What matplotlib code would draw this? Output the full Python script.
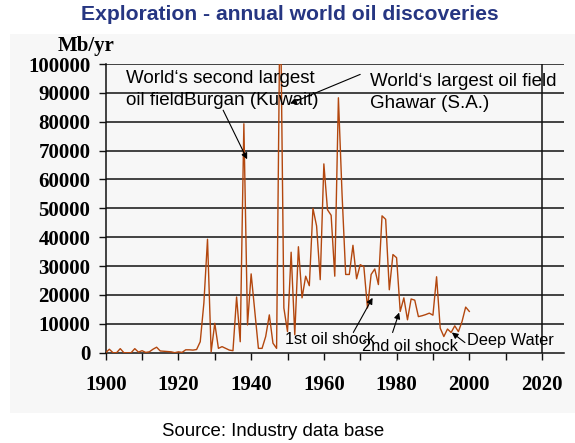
import matplotlib
matplotlib.use("Agg")
import matplotlib.pyplot as plt
from matplotlib.patches import Rectangle
from matplotlib.ticker import MultipleLocator

# Annual world oil discoveries, million barrels per year
years = list(range(1900, 2001))
discoveries = [
    0, 1200, 0, 0, 1400, 0, 0, 0, 1400, 200,            # 1900-1909
    700, 100, 300, 1200, 1900, 600, 500, 400, 300, 0,    # 1910-1919
    300, 100, 1000, 1000, 900, 1100, 3800, 17200, 39300, 300,   # 1920-1929
    10200, 1500, 2100, 1500, 900, 700, 19300, 3800, 79300, 9600,  # 1930-1939
    27300, 14400, 1500, 1500, 5600, 13100, 3300, 1500, 130000, 15500,  # 1940-1949
    7300, 34800, 6200, 36700, 19000, 26500, 23200, 50000, 43900, 25300,  # 1950-1959
    65400, 49500, 47600, 26500, 88300, 55000, 27100, 27100, 37200, 25600,  # 1960-1969
    30500, 29800, 15500, 27100, 29000, 23600, 47400, 46200, 21800, 34000,  # 1970-1979
    32900, 14300, 19000, 11400, 18600, 18200, 12500, 12800, 13200, 13700,  # 1980-1989
    13000, 26300, 8500, 5600, 8200, 7000, 9300, 7300, 10800, 15800,  # 1990-1999
    14300,                                                # 2000
]

x_ticks = [1900, 1920, 1940, 1960, 1980, 2000, 2020]
y_ticks = list(range(0, 100001, 10000))

W, H = 575, 443
fig = plt.figure(figsize=(W / 100, H / 100), dpi=100)
fig.patch.set_facecolor("white")

# light grey slide panel behind the chart
panel = Rectangle((10 / W, 1 - 413 / H), 565 / W, 379 / H,
                  transform=fig.transFigure, facecolor="#f7f7f7",
                  edgecolor="none", zorder=-10)
fig.patches.append(panel)

left, right, bottom, top = 105.7, 564, 352.7, 64
ax = fig.add_axes([left / W, 1 - bottom / H, (right - left) / W, (bottom - top) / H])
ax.set_facecolor("none")
ax.set_zorder(1)

x0 = 1900
x1 = 1900 + (right - left) / 3.636
ax.set_xlim(x0, x1)
ax.set_ylim(0, 100000)

for v in y_ticks[1:]:
    ax.axhline(v, color="#111111", lw=1.1, zorder=1)
ax.axvline(2020, color="#111111", lw=1.1, zorder=1)

ax.plot(years, discoveries, color="#b3470e", lw=1.0, zorder=3, clip_on=True)

for s in ["top", "right"]:
    ax.spines[s].set_visible(False)
for s in ["left", "bottom"]:
    ax.spines[s].set_color("#111111")
    ax.spines[s].set_linewidth(1.1)

serif = {"family": "Liberation Serif", "weight": "bold", "size": 15}
ax.set_xticks(x_ticks)
ax.set_xticklabels([str(t) for t in x_ticks], fontdict=serif)
ax.xaxis.set_minor_locator(MultipleLocator(10))
ax.set_yticks(y_ticks)
ax.set_yticklabels([str(t) for t in y_ticks], fontdict=serif)
ax.tick_params(axis="both", which="both", direction="out", length=5,
               width=1.0, color="#111111")
ax.tick_params(axis="x", pad=11)
ax.tick_params(axis="y", pad=6)

fig.text(58 / W, 1 - 46 / H, "Mb/yr", ha="left", va="center", **serif)

fig.text(290 / W, 1 - 15 / H, "Exploration - annual world oil discoveries",
         ha="center", va="center", family="Liberation Sans", weight="bold",
         size=15.2, color="#263682")

fig.text(273.5 / W, 1 - 431 / H, "Source: Industry data base", ha="center",
         va="center", family="Liberation Sans", size=13.4, color="black")

sans = {"family": "Liberation Sans", "size": 13.5, "color": "black"}
arrow = dict(arrowstyle="-|>", color="black", lw=0.8, mutation_scale=9,
             shrinkA=0, shrinkB=0)

ax.text(1905.6, 97800, "World\u2018s second largest\noil fieldBurgan (Kuwait)",
        ha="left", va="top", linespacing=1.38, zorder=4, **sans)
ax.annotate("", xy=(1938.9, 67000), xytext=(1932.3, 84000),
            arrowprops=arrow, zorder=5)

ax.text(1972.7, 97000, "World\u2018s largest oil field\nGhawar (S.A.)",
        ha="left", va="top", linespacing=1.38, zorder=4, **sans)
ax.annotate("", xy=(1950.7, 86300), xytext=(1970.0, 96400),
            arrowprops=arrow, zorder=5)

small = {"family": "Liberation Sans", "size": 11.8, "color": "black"}
ax.text(1949.3, 4400, "1st oil shock", ha="left", va="center", zorder=4, **small)
ax.annotate("", xy=(1973.4, 19000), xytext=(1968.1, 7000),
            arrowprops=arrow, zorder=5)

ax.text(1970.5, 2000, "2nd oil shock", ha="left", va="center", zorder=4, **small)
ax.annotate("", xy=(1980.7, 13900), xytext=(1978.9, 7000),
            arrowprops=arrow, zorder=5)

ax.text(1999.4, 4100, "Deep Water", ha="left", va="center", zorder=4, **small)
ax.annotate("", xy=(1995.2, 7000), xytext=(1998.8, 3500),
            arrowprops=arrow, zorder=5)

fig.savefig("out.png", dpi=100)
